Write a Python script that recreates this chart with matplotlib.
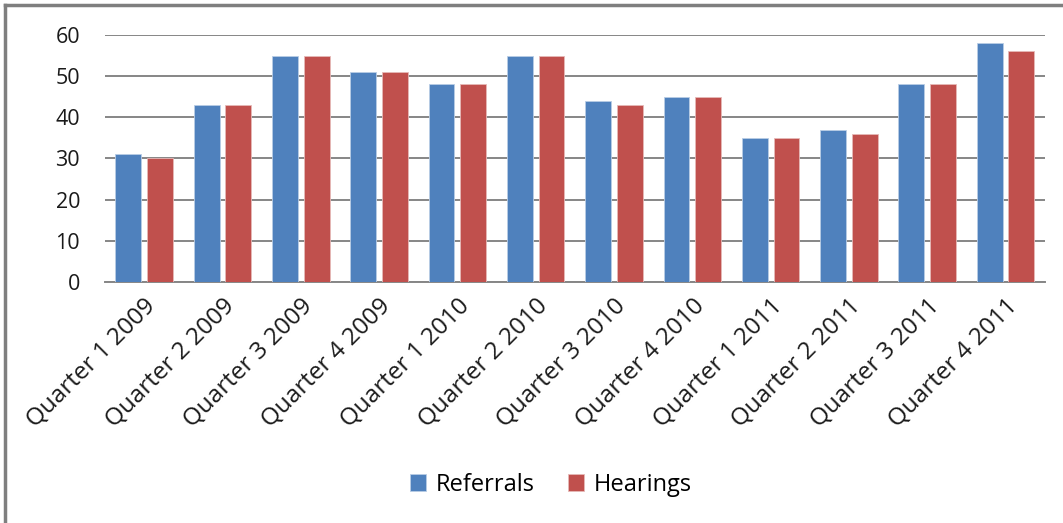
import numpy as np
import matplotlib.pyplot as plt
from matplotlib.lines import Line2D

categories = ['Quarter 1 2009', 'Quarter 2 2009', 'Quarter 3 2009', 'Quarter 4 2009',
              'Quarter 1 2010', 'Quarter 2 2010', 'Quarter 3 2010', 'Quarter 4 2010',
              'Quarter 1 2011', 'Quarter 2 2011', 'Quarter 3 2011', 'Quarter 4 2011']
referrals = [31, 43, 55, 51, 48, 55, 44, 45, 35, 37, 48, 58]
hearings = [30, 43, 55, 51, 48, 55, 43, 45, 35, 36, 48, 56]
yticks = [0, 10, 20, 30, 40, 50, 60]

plt.rcParams['font.family'] = ['Open Sans', 'DejaVu Sans']

fig = plt.figure(figsize=(10.63, 5.23), dpi=100)
ax = fig.add_axes([0.0988, 0.461, 0.884, 0.472])

x = np.arange(len(categories))
w = 0.33
gap = 0.075
ax.bar(x - (w + gap) / 2, referrals, w, color='#4F81BD', edgecolor='#B9CDE5',
       linewidth=0.6, label='Referrals', zorder=3)
ax.bar(x + (w + gap) / 2, hearings, w, color='#C0504D', edgecolor='#E6B9B8',
       linewidth=0.6, label='Hearings', zorder=3)

ax.set_xlim(-0.5, len(categories) - 0.5)
ax.set_ylim(0, 60)
ax.set_yticks(yticks)
ax.grid(axis='y', color='#868686', linewidth=1.4, zorder=0)
for s in ['top', 'right', 'left']:
    ax.spines[s].set_visible(False)
ax.spines['bottom'].set_color('#868686')
ax.spines['bottom'].set_linewidth(1.4)
ax.tick_params(axis='both', length=0, colors='#1a1a1a')
ax.tick_params(axis='y', pad=18, labelsize=15.5)
ax.set_xticks(x)
ax.set_xticklabels(categories, rotation=45, ha='right', rotation_mode='anchor')
ax.tick_params(axis='x', pad=9, labelsize=17.5)

ax.legend(loc='center', bbox_to_anchor=(0.518, 0.073), bbox_transform=fig.transFigure,
          ncol=2, frameon=False, fontsize=17, handlelength=0.7, handleheight=0.7,
          handletextpad=0.4, columnspacing=1.4)

# chart frame (top and left edges visible)
fig.add_artist(Line2D([0.005, 1.0], [0.99, 0.99], transform=fig.transFigure,
                      color='#7f7f7f', linewidth=2.5))
fig.add_artist(Line2D([0.005, 0.005], [0.0, 0.99], transform=fig.transFigure,
                      color='#7f7f7f', linewidth=2.5))

fig.savefig('out.png', dpi=100, facecolor='white')
